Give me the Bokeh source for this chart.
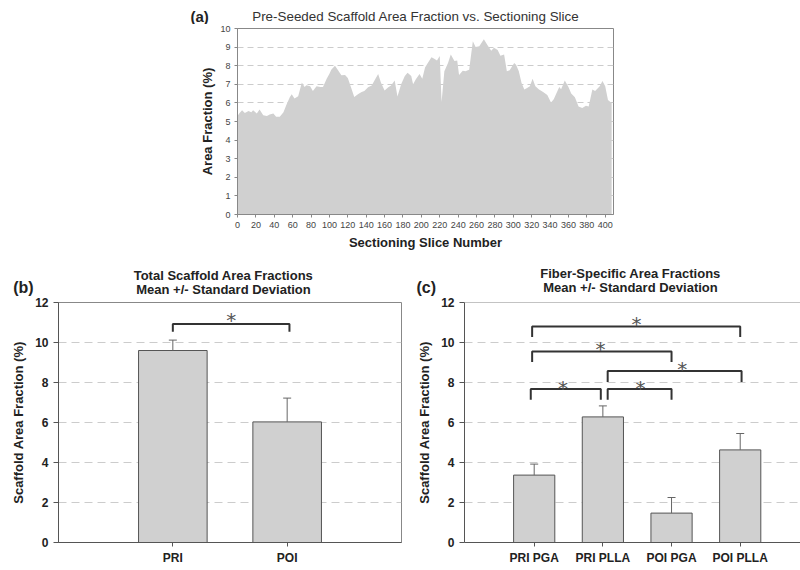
from bokeh.plotting import figure
from bokeh.layouts import column, row
from bokeh.models import Range1d, FixedTicker, Whisker, TeeHead, ColumnDataSource, Span
from bokeh.core.properties import value
from bokeh.embed import file_html
from bokeh.resources import INLINE

FONT = "Liberation Sans"

# ---------------- data: panel (a) ----------------
slices = [0, 2, 5, 8, 12, 15, 17, 21, 24, 28, 32, 35, 39, 42, 46, 50, 53, 57, 59, 62,
          66, 70, 73, 75, 79, 82, 86, 90, 93, 97, 100, 102, 106, 109, 113, 117, 120, 124, 127, 131,
          135, 138, 142, 146, 149, 153, 156, 160, 164, 167, 171, 174, 178, 182, 185, 189, 191, 194, 198, 201,
          204, 207, 211, 214, 217, 220, 222, 225, 229, 232, 236, 239, 241, 245, 248, 252, 256, 259, 263, 268,
          272, 276, 279, 283, 286, 290, 293, 296, 301, 303, 306, 309, 312, 315, 318, 321, 324, 328, 332, 337,
          341, 344, 350, 352, 356, 360, 363, 367, 371, 375, 379, 382, 386, 389, 394, 397, 400, 403, 407]
area_frac = [5.30, 5.45, 5.60, 5.46, 5.57, 5.50, 5.60, 5.43, 5.64, 5.34, 5.29, 5.37, 5.43, 5.25, 5.25, 5.50, 5.88, 6.32, 6.46, 6.23,
             6.36, 7.10, 6.86, 6.95, 6.90, 6.64, 6.90, 6.86, 6.86, 7.30, 7.57, 7.78, 8.00, 7.78, 7.48, 7.50, 7.34, 6.76, 6.32, 6.46,
             6.58, 6.64, 6.84, 6.93, 7.20, 7.55, 7.10, 6.66, 6.84, 6.93, 7.20, 6.35, 7.00, 7.45, 7.62, 7.45, 7.00, 7.27, 7.55, 7.30,
             7.90, 8.15, 8.46, 8.38, 8.28, 8.52, 6.05, 7.70, 8.15, 8.60, 8.25, 8.28, 7.50, 7.73, 7.70, 7.78, 9.32, 9.00, 9.05, 9.42,
             9.10, 8.80, 8.96, 8.85, 8.54, 8.60, 7.70, 7.75, 8.15, 8.05, 7.70, 7.07, 6.72, 6.80, 6.90, 7.30, 6.90, 6.72, 6.60, 6.43,
             6.02, 6.20, 6.86, 6.73, 7.20, 6.85, 6.50, 6.30, 5.80, 5.72, 5.85, 5.80, 6.72, 6.64, 6.90, 7.18, 6.90, 6.15, 6.00]
x_ticks_a = list(range(0, 401, 20))
y_ticks_a = list(range(0, 11))

# ---------------- data: panel (b) ----------------
cats_b = ["PRI", "POI"]
mean_b = [9.60, 6.03]
sd_b = [0.52, 1.19]
br_b_x0 = [1.00]
br_b_x1 = [2.02]
br_b_y = [10.92]
br_b_drop = [0.38]
star_b_x = [1.51]
star_b_y = [11.42]

# ---------------- data: panel (c) ----------------
cats_c = ["PRI PGA", "PRI PLLA", "POI PGA", "POI PLLA"]
mean_c = [3.37, 6.28, 1.47, 4.63]
sd_c = [0.55, 0.55, 0.78, 0.82]
br_c_x0 = [0.97, 0.97, 2.07, 0.95, 2.07]
br_c_x1 = [4.00, 3.00, 4.02, 1.97, 3.00]
br_c_y = [10.80, 9.55, 8.58, 7.67, 7.67]
br_c_drop = [0.52, 0.52, 0.55, 0.53, 0.53]
star_c_x = [2.49, 1.965, 3.155, 1.42, 2.548]
star_c_y = [11.25, 9.97, 8.97, 8.03, 8.03]

y_ticks_bc = [0, 2, 4, 6, 8, 10, 12]
grid_bc = [2, 4, 6, 8, 10]

BAR_FILL = "#d0d0d0"
TXT = "#222222"


def header(height):
    h = figure(width=800, height=height, x_range=Range1d(0, 800), y_range=Range1d(height, 0),
               x_axis_type=None, y_axis_type=None, output_backend="svg", toolbar_location=None,
               min_border=0, outline_line_color=None, frame_align=False)
    h.title.visible = False
    return h


def style_text_axis(ax, tick_size, tick_bold, label_size):
    ax.major_label_text_font = FONT
    ax.major_label_text_font_size = tick_size
    ax.major_label_text_font_style = "bold" if tick_bold else "normal"
    ax.major_label_text_color = TXT if tick_bold else "#444444"
    ax.axis_label_text_font = FONT
    ax.axis_label_text_font_size = label_size
    ax.axis_label_text_font_style = "bold"
    ax.axis_label_text_color = TXT
    ax.minor_tick_line_color = None


# ---------------- header for (a) ----------------
ha = header(24)
ha.text(x=[251.7], y=[15.6], text=["Pre-Seeded Scaffold Area Fraction vs. Sectioning Slice"],
        text_font=value(FONT), text_font_size="13.4px", text_color="#333333",
        text_align="left", text_baseline="alphabetic")
ha.text(x=[190.0], y=[15.8], text=["(a)"], text_font=value(FONT), text_font_style="bold",
        text_font_size="15px", text_color=TXT, text_align="left", text_baseline="alphabetic")

# ---------------- panel (a) ----------------
pa = figure(width=800, height=228, x_range=Range1d(0, 409), y_range=Range1d(0, 10),
            output_backend="svg", toolbar_location=None, frame_align=False,
            min_border_left=237, min_border_right=187, min_border_top=4, min_border_bottom=37)
pa.title.visible = False
pa.varea(x=slices, y1=[0] * len(slices), y2=area_frac, fill_color=BAR_FILL)
pa.xgrid.visible = False
pa.ygrid.ticker = FixedTicker(ticks=y_ticks_a[1:])
pa.ygrid.grid_line_color = "#cccccc"
pa.ygrid.grid_line_dash = "6 4"
pa.outline_line_color = "#888888"
pa.xaxis.ticker = FixedTicker(ticks=x_ticks_a)
pa.yaxis.ticker = FixedTicker(ticks=y_ticks_a)
for ax in (pa.xaxis[0], pa.yaxis[0]):
    style_text_axis(ax, "9px", False, "13px")
    ax.axis_line_color = "#888888"
    ax.major_tick_line_color = "#888888"
    ax.major_tick_out = 3
    ax.major_tick_in = 0
    ax.major_label_standoff = 4
pa.xaxis.axis_label_standoff = 4
pa.yaxis.axis_label_standoff = 2
pa.xaxis.axis_label = "Sectioning Slice Number"
pa.yaxis.axis_label = "Area Fraction (%)"

# ---------------- header for (b) and (c) ----------------
hbc = header(45)
hbc.text(x=[223.0, 223.0, 630.0, 630.0], y=[22.6, 36.9, 20.8, 35.1],
         text=["Total Scaffold Area Fractions", "Mean +/- Standard Deviation",
               "Fiber-Specific Area Fractions", "Mean +/- Standard Deviation"],
         text_font=value(FONT), text_font_style="bold", text_font_size="13px",
         text_color=TXT, text_align="center", text_baseline="alphabetic")
hbc.text(x=[12.7, 416.0], y=[35.4, 35.4], text=["(b)", "(c)"],
         text_font=value(FONT), text_font_style="bold", text_font_size="16px",
         text_color=TXT, text_align="left", text_baseline="alphabetic")


def bar_panel(cats, means, sds, x0s, x1s, ys, drops, sx, sy, width, x_range,
              mb_left, mb_right, outline):
    xs = [i + 1 for i in range(len(cats))]
    p = figure(width=width, height=273, x_range=x_range, y_range=Range1d(0, 12),
               output_backend="svg", toolbar_location=None, frame_align=False,
               min_border_left=mb_left, min_border_right=mb_right,
               min_border_top=5, min_border_bottom=28)
    p.title.visible = False
    p.xgrid.visible = False
    p.ygrid.ticker = FixedTicker(ticks=grid_bc)
    p.ygrid.grid_line_color = "#cccccc"
    p.ygrid.grid_line_dash = "8 5"
    if outline:
        p.outline_line_color = "#888888"
    else:
        p.outline_line_color = None
        p.add_layout(Span(location=12, dimension="width", line_color="#888888", line_width=1))
    p.vbar(x=xs, top=means, width=0.6, fill_color=BAR_FILL, line_color="#555555", line_width=1)
    src = ColumnDataSource(dict(x=xs, top=means, upper=[m + s for m, s in zip(means, sds)]))
    p.add_layout(Whisker(source=src, base="x", upper="upper", lower="top", dimension="height",
                         line_color="#666666", line_width=1, level="overlay",
                         upper_head=TeeHead(size=8, line_color="#666666", line_width=1),
                         lower_head=None))
    bx = [[a, a, b, b] for a, b in zip(x0s, x1s)]
    by = [[y - d, y, y, y - d] for y, d in zip(ys, drops)]
    p.multi_line(xs=bx, ys=by, line_color="#333333", line_width=2)
    p.text(x=sx, y=sy, text=["*"] * len(sx), text_font=value("DejaVu Sans"),
           text_font_size="20px", text_color="#555555", text_align="center",
           text_baseline="middle", y_offset=6)
    p.xaxis.ticker = FixedTicker(ticks=xs)
    p.xaxis.major_label_overrides = {x: c for x, c in zip(xs, cats)}
    p.yaxis.ticker = FixedTicker(ticks=y_ticks_bc)
    for ax in (p.xaxis[0], p.yaxis[0]):
        style_text_axis(ax, "12px", True, "13px")
        ax.axis_line_color = "#555555"
        ax.major_tick_line_color = "#555555"
        ax.major_tick_in = 0
    p.xaxis.major_tick_out = 4
    p.xaxis.major_label_standoff = 4
    p.yaxis.major_tick_out = 5
    p.yaxis.major_label_standoff = 5
    p.yaxis.axis_label_standoff = 6
    p.yaxis.axis_label = "Scaffold Area Fraction (%)"
    return p


pb = bar_panel(cats_b, mean_b, sd_b, br_b_x0, br_b_x1, br_b_y, br_b_drop, star_b_x, star_b_y,
               408, Range1d(0, 3), 58, 7, True)
pc = bar_panel(cats_c, mean_c, sd_c, br_c_x0, br_c_x1, br_c_y, br_c_drop, star_c_x, star_c_y,
               392, Range1d(-0.015, 4.878), 56, 0, False)

layout = column(ha, pa, hbc, row(pb, pc, spacing=0), spacing=0)
open("out.html", "w").write(file_html(layout, INLINE))
